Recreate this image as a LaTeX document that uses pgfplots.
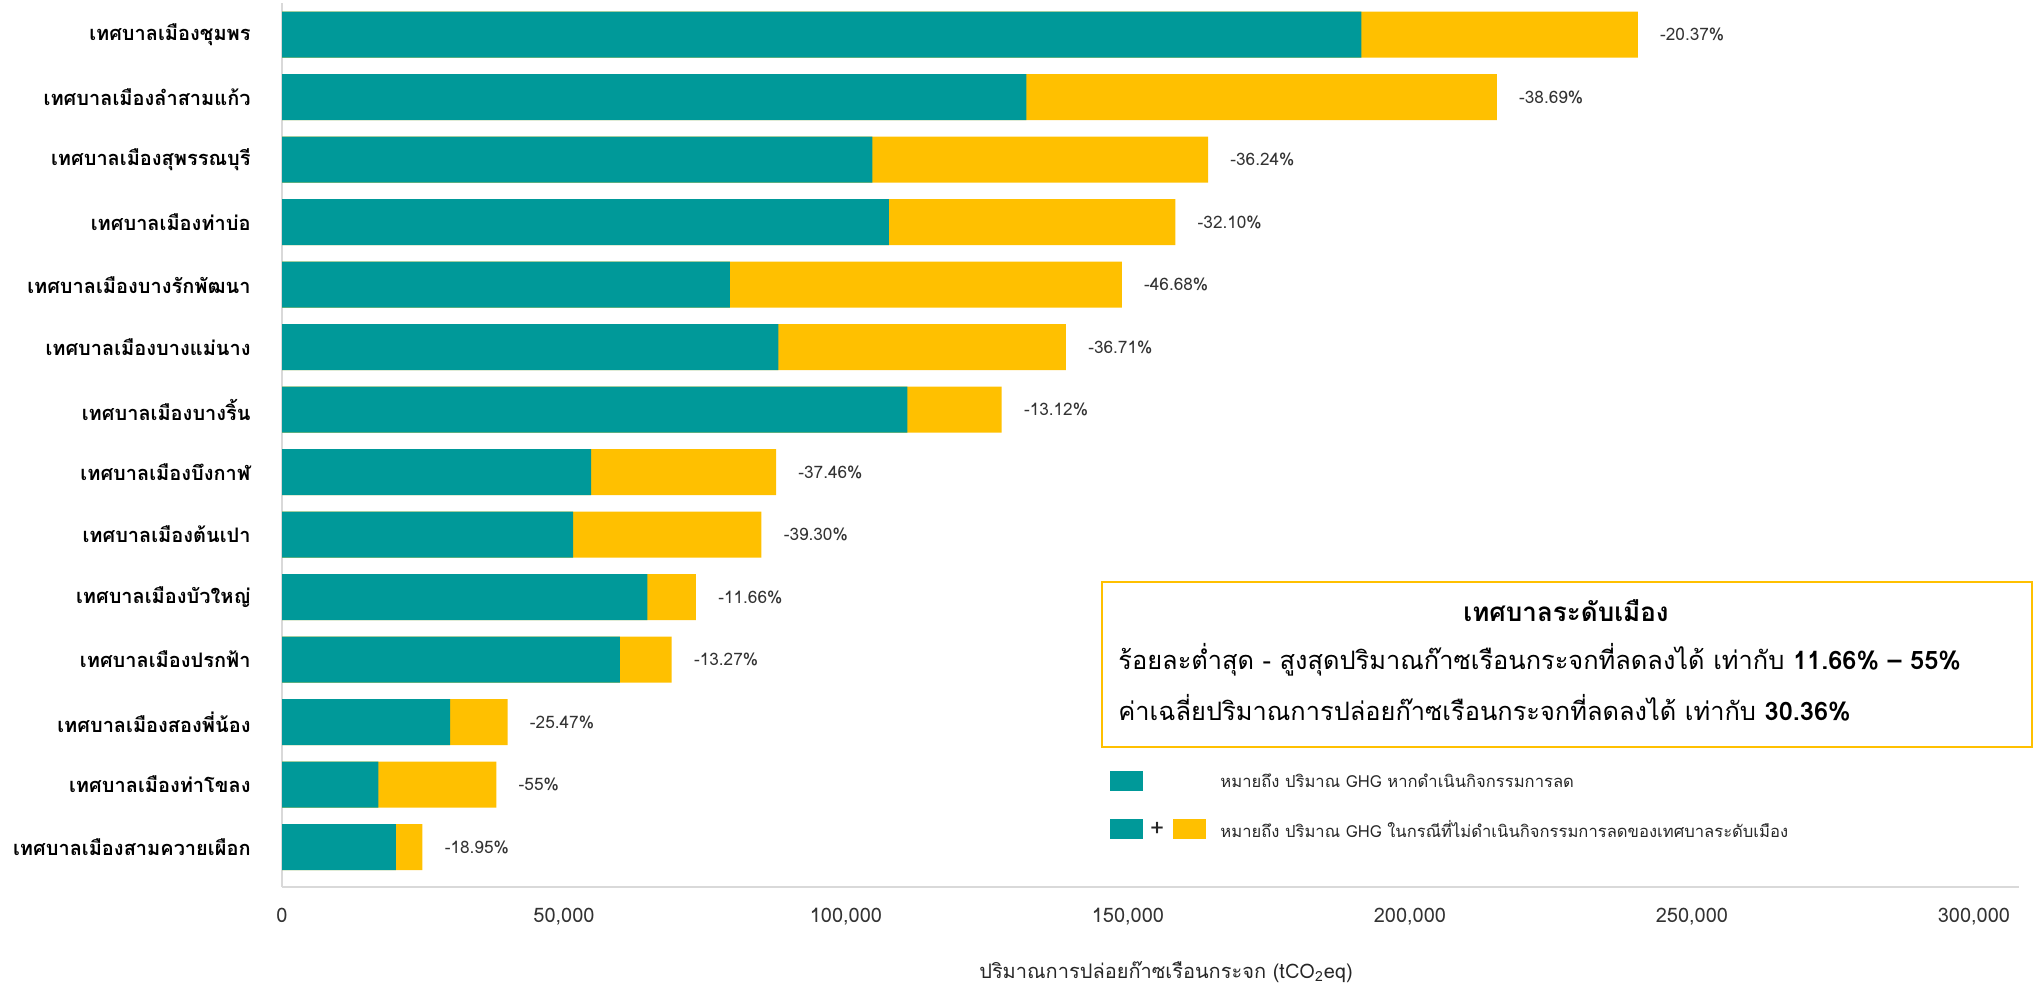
\documentclass[border=0pt]{standalone}
\usepackage{pgfplots}
\pgfplotsset{compat=1.18}
\usepackage{pgfplotstable}
\usepackage{fontspec}
\setmainfont{Loma}[Script=Thai]
\definecolor{ghgteal}{HTML}{009999}
\definecolor{ghgyellow}{HTML}{FFC000}
\definecolor{axisgray}{HTML}{D9D9D9}

% y: row position (13 = top)
% teal = GHG with reduction measures, total = GHG without them
\pgfplotstableread{
y teal   total  pct
13 191400 240400 -20.37
12 132000 215400 -38.69
11 104700 164200 -36.24
10 107600 158400 -32.10
9  79400  148900 -46.68
8  88000  139000 -36.71
7  110900 127600 -13.12
6  54800  87600  -37.46
5  51600  85000  -39.30
4  64800  73400  -11.66
3  59900  69100  -13.27
2  29800  40000  -25.47
1  17100  38000  -55
0  20200  24900  -18.95
}\data

\begin{document}
\begin{tikzpicture}
\begin{axis}[
  at={(141pt,-443.5pt)}, anchor=south west,
  width=868.5pt, height=442pt, scale only axis,
  xbar, bar width=23pt, bar shift=0pt,
  xmin=0, xmax=308000, ymin=-0.64, ymax=13.507,
  axis x line*=bottom, axis y line*=left,
  axis line style={draw=axisgray, line width=1pt},
  major tick length=0pt,
  scaled x ticks=false,
  xtick={0,50000,100000,150000,200000,250000,300000},
  xticklabels={0,{50,000},{100,000},{150,000},{200,000},{250,000},{300,000}},
  xticklabel style={font=\fontsize{10}{12}\selectfont, text=black!80, inner sep=0pt, anchor=north, yshift=-10.5pt},
  ytick={0,...,13},
  yticklabels={เทศบาลเมืองสามควายเผือก,เทศบาลเมืองท่าโขลง,เทศบาลเมืองสองพี่น้อง,เทศบาลเมืองปรกฟ้า,เทศบาลเมืองบัวใหญ่,เทศบาลเมืองต้นเปา,เทศบาลเมืองบึงกาฬ,เทศบาลเมืองบางริ้น,เทศบาลเมืองบางแม่นาง,เทศบาลเมืองบางรักพัฒนา,เทศบาลเมืองท่าบ่อ,เทศบาลเมืองสุพรรณบุรี,เทศบาลเมืองลำสามแก้ว,เทศบาลเมืองชุมพร},
  yticklabel style={font=\bfseries\fontsize{10}{12}\selectfont, anchor=east, inner sep=0pt, xshift=-15.5pt},
]
\addplot[fill=ghgyellow, draw=none,
  point meta=explicit symbolic,
  nodes near coords={\pgfplotspointmeta\%},
  nodes near coords style={anchor=west, inner sep=0pt, xshift=11pt, font=\fontsize{8.6}{10}\selectfont, text=black!80}]
  table[x=total, y=y, meta=pct] {\data};
\addplot[fill=ghgteal, draw=none] table[x=teal, y=y] {\data};
\end{axis}

% axis title
\node[font=\fontsize{10}{12}\selectfont, text=black!85] at (583pt,-486pt) {ปริมาณการปล่อยก๊าซเรือนกระจก (tCO\textsubscript{2}eq)};

% summary box
\draw[ghgyellow, line width=1pt] (551pt,-291pt) rectangle (1016pt,-373.5pt);
\node[font=\bfseries\fontsize{13}{15}\selectfont] at (783pt,-305.5pt) {เทศบาลระดับเมือง};
\node[anchor=west, inner sep=0pt, font=\fontsize{12.7}{15}\selectfont] at (559pt,-330pt) {ร้อยละต่ำสุด - สูงสุดปริมาณก๊าซเรือนกระจกที่ลดลงได้ เท่ากับ \textbf{11.66\% – 55\%}};
\node[anchor=west, inner sep=0pt, font=\fontsize{12.7}{15}\selectfont] at (559pt,-354pt) {ค่าเฉลี่ยปริมาณการปล่อยก๊าซเรือนกระจกที่ลดลงได้ เท่ากับ \textbf{30.36\%}};

% legend
\fill[ghgteal] (555pt,-385.5pt) rectangle (571.5pt,-395.5pt);
\node[anchor=west, inner sep=0pt, font=\fontsize{8.3}{10}\selectfont, text=black!85] at (610pt,-390.5pt) {หมายถึง ปริมาณ GHG หากดำเนินกิจกรรมการลด};
\fill[ghgteal] (555pt,-409.5pt) rectangle (571.5pt,-419.5pt);
\node[font=\fontsize{12}{14}\selectfont, text=black!85] at (578.5pt,-414.5pt) {+};
\fill[ghgyellow] (586.5pt,-409.5pt) rectangle (603pt,-419.5pt);
\node[anchor=west, inner sep=0pt, font=\fontsize{8.3}{10}\selectfont, text=black!85] at (610pt,-414.5pt) {หมายถึง ปริมาณ GHG ในกรณีที่ไม่ดำเนินกิจกรรมการลดของเทศบาลระดับเมือง};

\pgfresetboundingbox
\path (0pt,0pt) rectangle (1019pt,-496pt);
\end{tikzpicture}
\end{document}
